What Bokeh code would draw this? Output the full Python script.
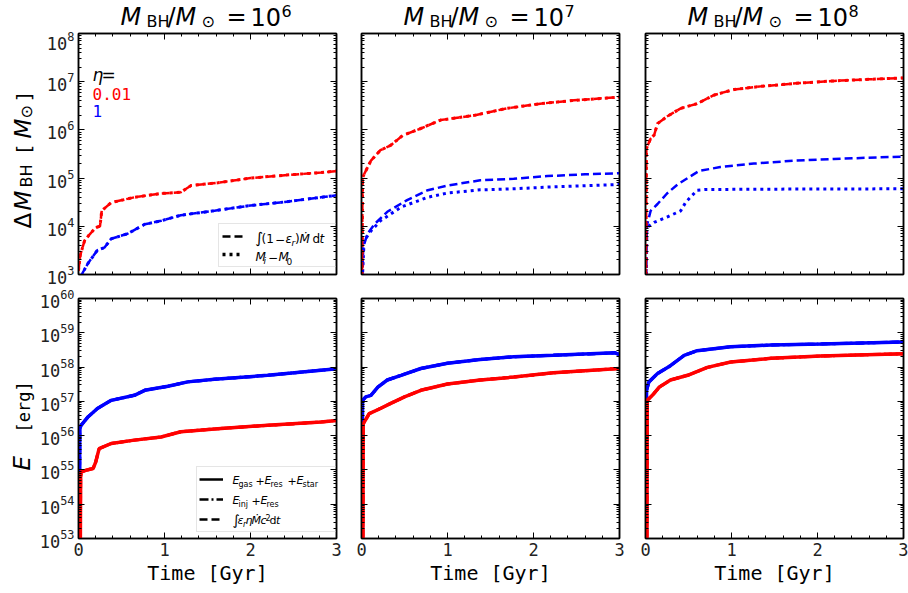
import math
from bokeh.plotting import figure
from bokeh.layouts import column, row
from bokeh.models import (Range1d, FixedTicker, LogTickFormatter, LinearAxis, LogAxis,
                          Label, Legend, LegendItem, CustomJSTickFormatter)
from bokeh.embed import file_html
from bokeh.resources import INLINE

RED = "#ff0000"
BLUE = "#0000ff"
SANS = "DejaVu Sans"
MONO = "DejaVu Sans Mono"
NAN = float("nan")

# ---------------- data ----------------
bh_masses = ["6", "7", "8"]
time_ticks = [0, 1, 2, 3]
dm_exponents = [3, 4, 5, 6, 7, 8]
e_exponents = [53, 54, 55, 56, 57, 58, 59, 60]
eta_labels = ["0.01", "1"]

# Delta M_BH  (dashed = integral, dotted = M_i - M_0)
m6_dm_red_t = [0.0, 0.02, 0.07, 0.12, 0.2, 0.25, 0.27, 0.38, 0.65, 0.96, 1.19, 1.31, 1.62, 2.0, 2.4, 2.82, 3.0]
m6_dm_red = [1.2e3, 2.5e3, 5e3, 6.5e3, 9.4e3, 1.0e4, 2.1e4, 3.1e4, 4e4, 4.8e4, 5.1e4, 7e4, 8e4, 1e5, 1.15e5, 1.3e5, 1.4e5]
m6_dm_red_dot = [1.2e3, 2.5e3, 5e3, 6.5e3, 9.4e3, 1.0e4, 2.1e4, 3.1e4, 4e4, 4.8e4, 5.1e4, 7e4, 8e4, 1e5, 1.15e5, 1.3e5, 1.4e5]
m6_dm_blue_t = [0.03, 0.05, 0.11, 0.22, 0.3, 0.38, 0.57, 0.77, 0.96, 1.19, 1.58, 2.0, 2.4, 2.82, 3.0]
m6_dm_blue = [9e2, 1.1e3, 1.7e3, 3.2e3, 3.6e3, 5.5e3, 7e3, 1.1e4, 1.3e4, 1.7e4, 2.1e4, 2.7e4, 3.2e4, 4e4, 4.4e4]
m6_dm_blue_dot = [9e2, 1.1e3, 1.7e3, 3.2e3, 3.6e3, 5.5e3, 7e3, 1.1e4, 1.3e4, 1.7e4, 2.1e4, 2.7e4, 3.2e4, 4e4, 4.4e4]

m7_dm_red_t = [0.006, 0.012, 0.03, 0.11, 0.22, 0.34, 0.48, 0.69, 0.92, 1.31, 1.69, 2.08, 2.47, 3.0]
m7_dm_red = [7e2, 1e5, 1.2e5, 2.3e5, 3.8e5, 4.8e5, 7.7e5, 1.07e6, 1.6e6, 2e6, 2.8e6, 3.5e6, 4.1e6, 4.8e6]
m7_dm_red_dot = [7e2, 1e5, 1.2e5, 2.3e5, 3.8e5, 4.8e5, 7.7e5, 1.07e6, 1.6e6, 2e6, 2.8e6, 3.5e6, 4.1e6, 4.8e6]
m7_dm_blue_t = [0.01, 0.02, 0.07, 0.15, 0.3, 0.53, 0.77, 1.0, 1.38, 1.77, 2.16, 2.6, 3.0]
m7_dm_blue = [8e2, 3.7e3, 7e3, 1.1e4, 2e4, 3.5e4, 5.6e4, 7e4, 9e4, 9.7e4, 1.1e5, 1.2e5, 1.26e5]
m7_dm_blue_dot_t = [0.01, 0.03, 0.11, 0.22, 0.46, 0.77, 1.0, 1.38, 1.77, 2.16, 3.0]
m7_dm_blue_dot = [8e2, 5e3, 8e3, 1.3e4, 2.5e4, 4e4, 4.9e4, 5.7e4, 6e4, 6.5e4, 7.4e4]

m8_dm_red_t = [0.005, 0.01, 0.02, 0.06, 0.1, 0.14, 0.25, 0.41, 0.6, 0.8, 1.03, 1.34, 1.8, 2.19, 2.6, 3.0]
m8_dm_red = [5e2, 4e5, 4.5e5, 6.6e5, 7.8e5, 1.35e6, 1.9e6, 2.8e6, 3.5e6, 5.3e6, 6.9e6, 8e6, 9.4e6, 1.04e7, 1.12e7, 1.2e7]
m8_dm_red_dot = [5e2, 4e5, 4.5e5, 6.6e5, 7.8e5, 1.35e6, 1.9e6, 2.8e6, 3.5e6, 5.3e6, 6.9e6, 8e6, 9.4e6, 1.04e7, 1.12e7, 1.2e7]
m8_dm_blue_t = [0.008, 0.015, 0.02, 0.06, 0.14, 0.25, 0.37, 0.49, 0.62, 0.87, 1.26, 1.73, 2.19, 3.0]
m8_dm_blue = [5e2, 9e3, 1.1e4, 2.1e4, 2.9e4, 4.8e4, 7.3e4, 1e5, 1.4e5, 1.7e5, 2e5, 2.3e5, 2.5e5, 2.8e5]
m8_dm_blue_dot_t = [0.008, 0.015, 0.02, 0.1, 0.25, 0.41, 0.47, 0.6, 0.7, 1.5, 3.0]
m8_dm_blue_dot = [5e2, 8e3, 9.6e3, 1.2e4, 1.55e4, 2.1e4, 3.2e4, 5.6e4, 5.8e4, 5.9e4, 6e4]

# Energies (solid = Egas+Eres+Estar, dash-dot = Einj+Eres, dashed = integral)
m6_e_blue_t = [0.01, 0.015, 0.03, 0.11, 0.22, 0.38, 0.65, 0.77, 1.04, 1.27, 1.58, 2.2, 2.82, 3.0]
m6_e_blue = [1e52, 1.6e56, 2.0e56, 3.5e56, 6.2e56, 1.07e57, 1.5e57, 2.1e57, 2.75e57, 3.7e57, 4.4e57, 5.75e57, 8.1e57, 8.9e57]
m6_e_red_t = [0.02, 0.025, 0.03, 0.1, 0.17, 0.2, 0.24, 0.38, 0.65, 0.96, 1.19, 1.62, 2.2, 2.82, 3.0]
m6_e_red = [1e52, 6.3e54, 8.7e54, 1.0e55, 1.1e55, 1.7e55, 4.2e55, 5.9e55, 7.4e55, 9.1e55, 1.3e56, 1.6e56, 2.0e56, 2.5e56, 2.75e56]

m7_e_blue_t = [0.01, 0.012, 0.05, 0.11, 0.19, 0.3, 0.46, 0.69, 1.0, 1.38, 1.77, 2.23, 2.95, 3.0]
m7_e_blue = [1e52, 1.07e57, 1.35e57, 1.5e57, 2.6e57, 4.2e57, 5.75e57, 9.1e57, 1.3e58, 1.66e58, 2.0e58, 2.2e58, 2.6e58, 2.3e58]
m7_e_red_t = [0.015, 0.02, 0.09, 0.22, 0.34, 0.5, 0.69, 1.0, 1.38, 1.77, 2.23, 3.0]
m7_e_red = [1e52, 2.2e56, 4.4e56, 6.2e56, 8.7e56, 1.35e57, 2.1e57, 3.2e57, 4.2e57, 5.1e57, 6.8e57, 9.1e57]

m8_e_blue_t = [0.01, 0.012, 0.04, 0.14, 0.29, 0.45, 0.6, 0.99, 1.46, 2.04, 3.0]
m8_e_blue = [1e52, 2.1e57, 3.7e57, 6.5e57, 1.1e58, 2.2e58, 3.0e58, 3.9e58, 4.4e58, 4.7e58, 5.4e58]
m8_e_red_t = [0.015, 0.02, 0.08, 0.16, 0.29, 0.49, 0.72, 0.99, 1.46, 2.04, 3.0]
m8_e_red = [1e52, 1.07e57, 1.5e57, 2.6e57, 4.2e57, 5.75e57, 9.8e57, 1.4e58, 1.8e58, 2.1e58, 2.45e58]

dm_panels = [
    dict(red_t=m6_dm_red_t, red=m6_dm_red, red_dot_t=m6_dm_red_t, red_dot=m6_dm_red_dot,
         blue_t=m6_dm_blue_t, blue=m6_dm_blue, blue_dot_t=m6_dm_blue_t, blue_dot=m6_dm_blue_dot),
    dict(red_t=m7_dm_red_t, red=m7_dm_red, red_dot_t=m7_dm_red_t, red_dot=m7_dm_red_dot,
         blue_t=m7_dm_blue_t, blue=m7_dm_blue, blue_dot_t=m7_dm_blue_dot_t, blue_dot=m7_dm_blue_dot),
    dict(red_t=m8_dm_red_t, red=m8_dm_red, red_dot_t=m8_dm_red_t, red_dot=m8_dm_red_dot,
         blue_t=m8_dm_blue_t, blue=m8_dm_blue, blue_dot_t=m8_dm_blue_dot_t, blue_dot=m8_dm_blue_dot),
]
e_panels = [
    dict(red_t=m6_e_red_t, red=m6_e_red, blue_t=m6_e_blue_t, blue=m6_e_blue),
    dict(red_t=m7_e_red_t, red=m7_e_red, blue_t=m7_e_blue_t, blue=m7_e_blue),
    dict(red_t=m8_e_red_t, red=m8_e_red, blue_t=m8_e_blue_t, blue=m8_e_blue),
]

# ---------------- helpers ----------------
DASH = "8 4"
DOT = "3 4"
DASHDOT = "9 3 2 3"

FW = 258
HEADER_H = 31
LEFT_W = 36
BORDER_L = [42, 13, 13]
BORDER_R = [12, 13, 5]
FRAME_LEFTS = [78, 361, 645]
MID = 0.346   # distance (in em) from text centre line down to the baseline


def rich(p, x0, y0, pieces, angle=0.0):
    """Place text pieces so their baselines sit at (x0 + off, y0 - shift).
    pieces: (text, offset along, size px, style, shift (down +), font, color)"""
    for txt, off, size, style, shift, font, color in pieces:
        if angle:
            x, y = x0 + shift - MID * size, y0 + off
        else:
            x, y = x0 + off, y0 - shift + MID * size
        p.add_layout(Label(x=x, y=y, x_units="screen", y_units="screen", text=txt, angle=angle,
                           text_font=font, text_font_size=f"{size}px", text_font_style=style,
                           text_color=color, text_align="left", text_baseline="middle"))


def blank(w, h):
    b = figure(width=w, height=h, x_range=Range1d(0, 1), y_range=Range1d(0, 1),
               x_axis_location=None, y_axis_location=None, toolbar_location=None,
               output_backend="svg", min_border=0, outline_line_color=None)
    b.grid.visible = False
    return b


def key_line(p, **kw):
    # legend key only: a single non-finite point, nothing is drawn in the frame
    return p.line([NAN], [NAN], **kw)


def style_axis(ax, labels):
    ax.major_tick_in = 6
    ax.major_tick_out = 0
    ax.minor_tick_in = 3
    ax.minor_tick_out = 0
    ax.major_tick_line_color = "black"
    ax.minor_tick_line_color = "black"
    ax.major_tick_line_width = 1
    ax.minor_tick_line_width = 1
    ax.axis_line_color = "black"
    ax.axis_line_width = 1.5
    ax.major_label_text_font = MONO
    ax.major_label_text_color = "#222222"
    ax.major_label_text_font_size = "17px"
    if labels:
        ax.major_label_standoff = 4
    else:
        ax.formatter = CustomJSTickFormatter(code="return ''")
        ax.major_label_standoff = 0


def make_fig(col, top):
    fh = 241 if top else 240
    if top:
        yr = Range1d(10.0 ** dm_exponents[0], 10.0 ** dm_exponents[-1])
        exps = dm_exponents
    else:
        yr = Range1d(10.0 ** e_exponents[0], 10.0 ** e_exponents[-1])
        exps = e_exponents
    p = figure(frame_width=FW, frame_height=fh, x_range=Range1d(time_ticks[0], time_ticks[-1]),
               y_range=yr, y_axis_type="log", output_backend="svg", toolbar_location=None,
               min_border_left=BORDER_L[col], min_border_right=BORDER_R[col],
               min_border_top=2 if top else 10, min_border_bottom=14 if top else 55)
    p.grid.visible = False
    p.outline_line_color = "black"
    p.outline_line_width = 1.5
    p.background_fill_color = "white"
    p.border_fill_color = "white"

    xt = FixedTicker(ticks=time_ticks, minor_ticks=[k / 5 for k in range(16)])
    ymaj = [10.0 ** e for e in exps]
    ymin = [m * 10.0 ** e for e in exps[:-1] for m in range(2, 10)]
    yt = FixedTicker(ticks=ymaj, minor_ticks=ymin)

    for ax in p.xaxis:
        ax.ticker = xt
        style_axis(ax, labels=not top)
        if not top:
            ax.axis_label = "Time [Gyr]"
            ax.axis_label_text_font = MONO
            ax.axis_label_text_font_size = "20px"
            ax.axis_label_text_font_style = "normal"
            ax.axis_label_text_color = "black"
            ax.axis_label_standoff = 2
    for ax in p.yaxis:
        ax.ticker = yt
        ax.formatter = LogTickFormatter()
        style_axis(ax, labels=(col == 0))

    right = LogAxis(ticker=yt)
    style_axis(right, labels=False)
    p.add_layout(right, "right")
    above = LinearAxis(ticker=xt)
    style_axis(above, labels=False)
    p.add_layout(above, "above")
    return p


# ---------------- header with titles ----------------
header = blank(908, HEADER_H)
for c in range(3):
    x0 = FRAME_LEFTS[c]
    rich(header, x0, HEADER_H - 25, [
        ("M", 42, 24, "italic", 0, SANS, "black"),
        ("BH", 68, 16, "normal", 2, SANS, "black"),
        ("/", 89, 24, "normal", 0, SANS, "black"),
        ("M", 97, 24, "italic", 0, SANS, "black"),
        ("\u2299", 123, 16, "normal", 2, SANS, "black"),
        ("=", 148, 24, "normal", 0, SANS, "black"),
        ("10", 172, 24, "normal", 0, SANS, "black"),
        (bh_masses[c], 203, 16, "normal", -9, SANS, "black"),
    ])

# ---------------- left strip with y-axis labels ----------------
left = blank(LEFT_W, 593 - HEADER_H)
rich(left, 30.5, 593 - 228, [
    ("\u0394", 0, 23, "normal", 0, SANS, "black"),
    ("M", 18, 23, "italic", 0, SANS, "black"),
    ("BH", 41, 16, "normal", 1.5, SANS, "black"),
    ("[", 73, 20, "normal", 0, MONO, "black"),
    ("M", 90, 23, "italic", 0, SANS, "black"),
    ("\u2299", 110, 16, "normal", 1.5, SANS, "black"),
    ("]", 126, 20, "normal", 0, MONO, "black"),
], angle=math.pi / 2)
rich(left, 29, 593 - 470, [
    ("E", 0, 23, "italic", 0, SANS, "black"),
    ("[erg]", 38, 17, "normal", 0, MONO, "black"),
], angle=math.pi / 2)

figs_top = []
figs_bot = []
for c in range(3):
    # -------- top: Delta M_BH --------
    p = make_fig(c, True)
    d = dm_panels[c]
    p.line(d["blue_t"], d["blue"], line_color=BLUE, line_width=2.5, line_dash=DASH)
    p.line(d["blue_dot_t"], d["blue_dot"], line_color=BLUE, line_width=3, line_dash=DOT)
    p.line(d["red_t"], d["red"], line_color=RED, line_width=2.5, line_dash=DASH)
    p.line(d["red_dot_t"], d["red_dot"], line_color=RED, line_width=3, line_dash=DOT)

    if c == 0:
        # eta annotation
        rich(p, 14, 194, [("\u03b7", 0, 17, "italic", 0, SANS, "black"),
                          ("=", 9, 17, "normal", 0, SANS, "black")])
        rich(p, 14, 175, [(eta_labels[0], 0, 16, "normal", 0, MONO, RED)])
        rich(p, 14, 158, [(eta_labels[1], 0, 16, "normal", 0, MONO, BLUE)])
        # legend
        s1 = key_line(p, line_color="black", line_width=2.5, line_dash=DASH)
        s2 = key_line(p, line_color="black", line_width=3.5, line_dash=DOT)
        leg = Legend(items=[LegendItem(label=" ", renderers=[s1]), LegendItem(label=" ", renderers=[s2])],
                     location=(140, 7), padding=3, spacing=0, glyph_width=21, glyph_height=18,
                     label_standoff=13, label_width=77, label_height=18, label_text_font_size="8px",
                     border_line_color="#cccccc", border_line_width=1, background_fill_alpha=0.0,
                     margin=0)
        p.add_layout(leg)
        rich(p, 177, 31, [
            ("\u222b", 0, 15, "normal", 0, SANS, "black"),
            ("(1", 6, 12, "normal", 0, SANS, "black"),
            ("\u2212", 19.5, 12, "normal", 0, SANS, "black"),
            ("\u03b5", 30, 12, "italic", 0, SANS, "black"),
            ("r", 36, 9, "italic", 3, SANS, "black"),
            (")", 39.5, 12, "normal", 0, SANS, "black"),
            ("\u1e40", 44, 12, "italic", 0, SANS, "black"),
            ("d", 57, 12, "normal", 0, SANS, "black"),
            ("t", 64, 12, "italic", 0, SANS, "black"),
        ])
        rich(p, 177, 13, [
            ("M", 0, 12, "italic", 0, SANS, "black"),
            ("i", 8, 9, "italic", 3, SANS, "black"),
            ("\u2212", 12.5, 12, "normal", 0, SANS, "black"),
            ("M", 23, 12, "italic", 0, SANS, "black"),
            ("0", 31, 9, "normal", 3, SANS, "black"),
        ])
    figs_top.append(p)

    # -------- bottom: energies --------
    q = make_fig(c, False)
    e = e_panels[c]
    for col_, tk, vk in ((BLUE, "blue_t", "blue"), (RED, "red_t", "red")):
        q.line(e[tk], e[vk], line_color=col_, line_width=3.5)
        q.line(e[tk], e[vk], line_color=col_, line_width=3, line_dash=DASHDOT)
        q.line(e[tk], e[vk], line_color=col_, line_width=3, line_dash=DASH)

    if c == 0:
        t1 = key_line(q, line_color="black", line_width=2.5)
        t2 = key_line(q, line_color="black", line_width=2.5, line_dash=DASHDOT)
        t3 = key_line(q, line_color="black", line_width=2.5, line_dash=DASH)
        leg2 = Legend(items=[LegendItem(label=" ", renderers=[t1]), LegendItem(label=" ", renderers=[t2]),
                             LegendItem(label=" ", renderers=[t3])],
                      location=(118, 6), padding=2, spacing=0, glyph_width=24, glyph_height=20,
                      label_standoff=10, label_width=101, label_height=20, label_text_font_size="8px",
                      border_line_color="#cccccc", border_line_width=1, background_fill_alpha=0.0,
                      margin=0)
        q.add_layout(leg2)
        rich(q, 154, 54, [
            ("E", 0, 11, "italic", 0, SANS, "black"),
            ("gas", 6, 8, "normal", 2.5, SANS, "black"),
            ("+", 23, 11, "normal", 0, SANS, "black"),
            ("E", 32, 11, "italic", 0, SANS, "black"),
            ("res", 38, 8, "normal", 2.5, SANS, "black"),
            ("+", 55, 11, "normal", 0, SANS, "black"),
            ("E", 64, 11, "italic", 0, SANS, "black"),
            ("star", 70, 8, "normal", 2.5, SANS, "black"),
        ])
        rich(q, 154, 34, [
            ("E", 0, 11, "italic", 0, SANS, "black"),
            ("inj", 6, 8, "normal", 2.5, SANS, "black"),
            ("+", 19, 11, "normal", 0, SANS, "black"),
            ("E", 28, 11, "italic", 0, SANS, "black"),
            ("res", 34, 8, "normal", 2.5, SANS, "black"),
        ])
        rich(q, 154, 14, [
            ("\u222b", 0, 14, "normal", 0, SANS, "black"),
            ("\u03b5", 5, 11, "italic", 0, SANS, "black"),
            ("r", 10.5, 8, "italic", 2.5, SANS, "black"),
            ("\u03b7", 13, 11, "italic", 0, SANS, "black"),
            ("\u1e40", 19, 11, "italic", 0, SANS, "black"),
            ("c", 28, 11, "italic", 0, SANS, "black"),
            ("2", 33, 8, "normal", -4, SANS, "black"),
            ("d", 37, 11, "normal", 0, SANS, "black"),
            ("t", 43.5, 11, "italic", 0, SANS, "black"),
        ])
    figs_bot.append(q)

grid = column(row(*figs_top, spacing=0), row(*figs_bot, spacing=0), spacing=0)
layout = column(header, row(left, grid, spacing=0), spacing=0)
open("out.html", "w").write(file_html(layout, INLINE))
